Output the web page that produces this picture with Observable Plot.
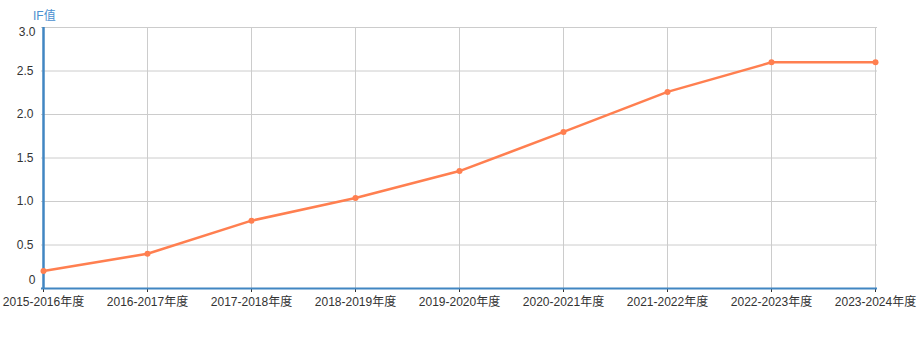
<!DOCTYPE html>
<html>
<head>
<meta charset="utf-8">
<script src="https://cdn.jsdelivr.net/npm/d3@7"></script>
<script src="https://cdn.jsdelivr.net/npm/@observablehq/plot@0.6"></script>
<style>
  html, body { margin: 0; padding: 0; background: #fff; }
  #chart { position: relative; width: 924px; height: 337px; }
</style>
</head>
<body>
<div id="chart"></div>
<script>
const years = ["2015-2016年度","2016-2017年度","2017-2018年度","2018-2019年度","2019-2020年度","2020-2021年度","2021-2022年度","2022-2023年度","2023-2024年度"];
const ifValues = [0.2, 0.4, 0.78, 1.04, 1.35, 1.8, 2.26, 2.6, 2.6];
const yTicks = [0, 0.5, 1.0, 1.5, 2.0, 2.5, 3.0];
const yTitle = "IF值";

const data = years.map((y, i) => ({year: y, value: ifValues[i]}));
const axisBlue = "#4186c2";
const font = "'Liberation Sans', 'Noto Sans CJK SC', sans-serif";
const midTicks = yTicks.slice(1, -1);
const yMin = yTicks[0], yMax = yTicks[yTicks.length - 1];

const plot = Plot.plot({
  width: 924,
  height: 337,
  marginLeft: 41,
  marginRight: 47,
  marginTop: 27,
  marginBottom: 49,
  style: {fontFamily: font, fontSize: "12px", color: "#333", background: "#fff"},
  x: {type: "point", domain: years, padding: 0},
  y: {domain: [yMin, yMax]},
  marks: [
    Plot.gridY(yTicks, {stroke: "#cccccc", strokeOpacity: 1, strokeWidth: 1}),
    Plot.gridX(years.slice(1), {stroke: "#cccccc", strokeOpacity: 1, strokeWidth: 1}),
    Plot.axisY(midTicks, {tickSize: 0, tickPadding: 8, tickFormat: d => d.toFixed(1), fill: "#333", fontSize: 12, label: null}),
    Plot.text([yMin], {x: () => years[0], y: d => d, text: () => "0", textAnchor: "end", dx: -8, dy: -8, fill: "#333", fontSize: 12}),
    Plot.text([yMax], {x: () => years[0], y: d => d, text: d => d.toFixed(1), textAnchor: "end", dx: -8, dy: 5, fill: "#333", fontSize: 12}),
    Plot.axisX({tickSize: 4, tickPadding: 5, stroke: "#333", fill: "#333", fontSize: 12, label: null}),
    Plot.ruleY([yMin], {stroke: axisBlue, strokeWidth: 2}),
    Plot.ruleX([years[0]], {stroke: axisBlue, strokeWidth: 2.5}),
    Plot.line(data, {x: "year", y: "value", stroke: "#ff7f50", strokeWidth: 2.5}),
    Plot.dot(data, {x: "year", y: "value", fill: "#ff7f50", r: 3})
  ]
});
document.getElementById("chart").appendChild(plot);

const title = document.createElement("div");
title.textContent = yTitle;
Object.assign(title.style, {position: "absolute", left: "33px", top: "6px", fontFamily: font, fontSize: "12px", color: "#4a90d0"});
document.getElementById("chart").appendChild(title);
</script>
</body>
</html>
